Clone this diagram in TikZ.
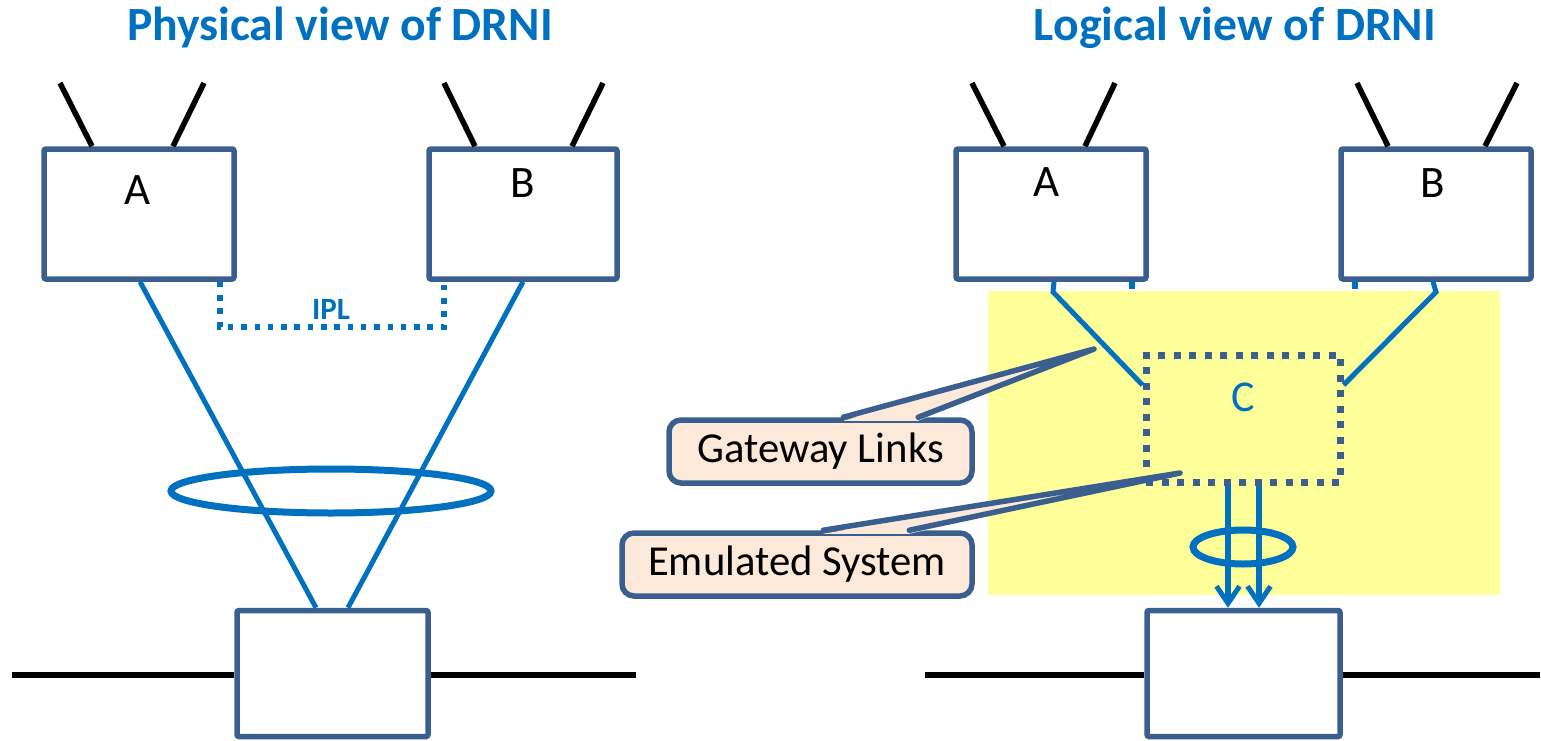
\documentclass[tikz,border=0pt]{standalone}
\usepackage{fontspec}
\setmainfont{Carlito}
\usetikzlibrary{arrows.meta,calc,shapes.geometric}

\definecolor{boxline}{HTML}{3A5F8F}
\definecolor{linkblue}{HTML}{0070C0}
\definecolor{calloutfill}{HTML}{FDE9D9}
\definecolor{emuarea}{HTML}{FFFF99}

\tikzset{
  devbox/.style={draw=boxline, line width=5.5pt, fill=white, rounded corners=2pt,
    inner sep=0pt},
  devlabel/.style={font=\fontsize{45}{54}\selectfont, text=black, inner sep=0pt},
  antenna/.style={draw=black, line width=5.5pt},
  link/.style={draw=linkblue, line width=5pt},
  ring/.style={draw=linkblue, line width=7pt},
  ipl/.style={draw=linkblue, line width=5.5pt, dash pattern=on 5.5pt off 7.8pt},
  emubox/.style={draw=boxline, line width=7pt, dash pattern=on 7pt off 8.5pt,
    inner sep=0pt},
  lan/.style={draw=black, line width=6pt},
  title/.style={font=\bfseries\fontsize{47.7}{56}\selectfont, text=linkblue},
  callout/.style={draw=boxline, line width=5.5pt, fill=calloutfill, rounded corners=12pt,
    inner sep=0pt, font=\fontsize{42.7}{50}\selectfont},
  pointer/.style={draw=boxline, line width=5.5pt, line join=round, line cap=round},
  downarrow/.style={draw=linkblue, line width=5.5pt,
    -{Straight Barb[length=17pt,width=23pt,line width=5pt]}}
}

\begin{document}
\begin{tikzpicture}[x=1pt,y=-1pt]
\useasboundingbox (0,0) rectangle (1541,741);

% ---------------- physical view ----------------
\node[title] (ptitle) at (340,28) {Physical view of DRNI};

\node[devbox, minimum width=190pt, minimum height=130pt] (pA) at (139,214) {};
\node[devbox, minimum width=188pt, minimum height=130pt] (pB) at (523,214) {};
\node[devbox, minimum width=191pt, minimum height=126pt] (pS) at (332.5,673.5) {};
\node[devlabel] (pAl) at (138,190) {A};
\node[devlabel] (pBl) at (523,183) {B};

% antennas
\coordinate (pAa1) at (60,83);  \coordinate (pAa2) at (204,83);
\coordinate (pBa1) at (444,83); \coordinate (pBa2) at (603,83);
\draw[antenna] (pAa1) -- ([xshift=-47pt]pA.north);
\draw[antenna] (pAa2) -- ([xshift=34pt]pA.north);
\draw[antenna] (pBa1) -- ([xshift=-48pt]pB.north);
\draw[antenna] (pBa2) -- ([xshift=49pt]pB.north);

% intra-portal link
\coordinate (iplL) at (220,327);
\coordinate (iplR) at (444,327);
\draw[ipl] ([xshift=81pt]pA.south) -- (iplL) -- (iplR) -- ([xshift=-79pt]pB.south);
\node[font=\bfseries\fontsize{31}{36}\selectfont, text=linkblue, inner sep=0pt] (ipltxt) at (331,309) {IPL};

% links to the partner system
\draw[link] ([xshift=1pt]pA.south) -- ([xshift=-16.5pt]pS.north);
\draw[link] (pB.south) -- ([xshift=15.5pt]pS.north);
\node[ring, ellipse, minimum width=320pt, minimum height=44pt, inner sep=0pt] (pring) at (331,491) {};

% LAN
\coordinate (pL1) at (12,675);
\coordinate (pL2) at (636,675);
\draw[lan] (pL1) -- (pS.west |- pL1);
\draw[lan] (pS.east |- pL2) -- (pL2);

% ---------------- logical view ----------------
\node[title] (ltitle) at (1235,28) {Logical view of DRNI};

\node[devbox, minimum width=190pt, minimum height=130pt] (lA) at (1051,214) {};
\node[devbox, minimum width=190pt, minimum height=130pt] (lB) at (1436,214) {};
\node[devbox, minimum width=193pt, minimum height=126pt] (lS) at (1243.5,673.5) {};
\node[devlabel] (lAl) at (1047,182) {A};
\node[devlabel] (lBl) at (1433,183) {B};

\coordinate (lAa1) at (972,83);  \coordinate (lAa2) at (1115,83);
\coordinate (lBa1) at (1357,83); \coordinate (lBa2) at (1517,83);
\draw[antenna] (lAa1) -- ([xshift=-47pt]lA.north);
\draw[antenna] (lAa2) -- ([xshift=34pt]lA.north);
\draw[antenna] (lBa1) -- ([xshift=-48pt]lB.north);
\draw[antenna] (lBa2) -- ([xshift=49pt]lB.north);

% emulated system area
\fill[emuarea] (988,291) rectangle (1500,595);

% remains of the IPL peeking out above the area
\draw[link, line width=5.5pt] ([xshift=81pt]lA.south) -- ++(0,7);
\draw[link, line width=5.5pt] ([xshift=-81pt]lB.south) -- ++(0,7);

\node[emubox, minimum width=194pt, minimum height=127pt] (lC) at (1243,418.5) {};
\node[font=\fontsize{44}{52}\selectfont, text=linkblue, inner sep=0pt] (lCl) at (1243,397) {C};

% gateway links
\coordinate (gwA) at (1053,292);
\coordinate (gwB) at (1436,292);
\draw[link] ([xshift=3pt]lA.south) -- (gwA) -- ([yshift=33.5pt]lC.west);
\draw[link] ([xshift=-3pt]lB.south) -- (gwB) -- ([yshift=33.5pt]lC.east);

% aggregated links to the partner system
\draw[downarrow] ([xshift=-15pt]lC.south) -- ([xshift=-15.5pt]lS.north);
\draw[downarrow] ([xshift=16pt]lC.south) -- ([xshift=15.5pt]lS.north);
\node[ring, ellipse, minimum width=100pt, minimum height=34pt, inner sep=0pt] (lring) at (1243,547) {};

\coordinate (lL1) at (925,675);
\coordinate (lL2) at (1540,675);
\draw[lan] (lL1) -- (lS.west |- lL1);
\draw[lan] (lS.east |- lL2) -- (lL2);

% ---------------- callouts ----------------
\node[callout, minimum width=303pt, minimum height=63pt] (cGW) at (820.5,451.5) {Gateway Links};
\node[callout, minimum width=350pt, minimum height=63pt] (cES) at (797,564.5) {Emulated System};

\coordinate (gwTip) at (1094,349);
\coordinate (esTip) at (1180,473);

\fill[calloutfill] ([xshift=177pt,yshift=-3.5pt]cGW.north west) -- (gwTip) -- ([xshift=252pt,yshift=-3.5pt]cGW.north west) -- cycle;
\draw[pointer] ([xshift=177pt]cGW.north west) -- (gwTip) -- ([xshift=252pt]cGW.north west);

\fill[calloutfill] ([xshift=204pt,yshift=-3.5pt]cES.north west) -- (esTip) -- ([xshift=290pt,yshift=-3.5pt]cES.north west) -- cycle;
\draw[pointer] ([xshift=204pt]cES.north west) -- (esTip) -- ([xshift=290pt]cES.north west);

\end{tikzpicture}
\end{document}
